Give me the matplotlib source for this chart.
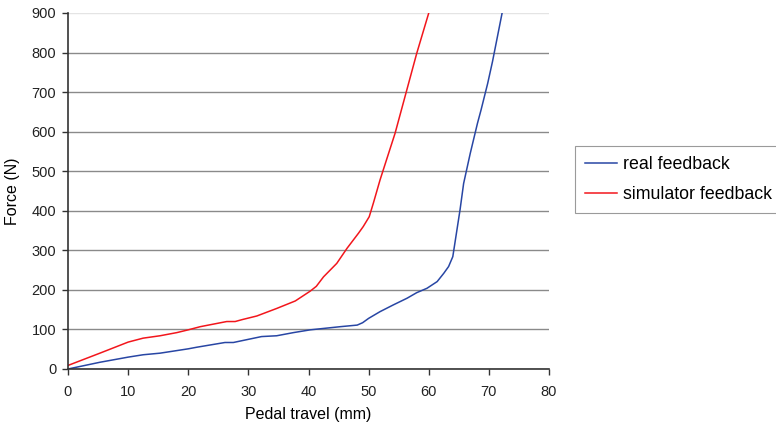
import matplotlib
matplotlib.use("Agg")
import matplotlib.pyplot as plt

plt.rcParams["font.family"] = ["Liberation Sans", "DejaVu Sans"]
plt.rcParams["font.size"] = 10.5

# pedal travel (mm) vs force (N)
real_x = [0, 5.3, 10, 12.5, 15.3, 20, 21.4, 26.1, 27.5, 30, 32.2, 34.7, 37.5, 40.3,
          45.3, 48.1, 49.0, 50.0, 51.9, 54.1, 56.4, 58.0, 59.7, 61.4, 62.5, 63.3,
          64.0, 65.2, 65.8, 66.9, 68.1, 68.7, 69.8, 70.6, 72.2]
real_y = [0, 17, 30, 36, 40, 51, 55, 67, 67, 75, 82, 84, 92, 99,
          107, 111, 117, 128, 145, 162, 179, 193, 204, 221, 242, 259,
          284, 402, 469, 545, 621, 655, 722, 777, 900]

sim_x = [0, 5.3, 10, 12.5, 15.3, 18.1, 20, 22, 26.4, 27.8, 29, 31.4, 34.7, 37.8,
         40.3, 41.3, 42.5, 44.7, 46.4, 48.3, 49.1, 50.1, 50.8, 51.9, 53.0, 54.4,
         56.2, 58.0, 60.0]
sim_y = [9, 40, 68, 78, 84, 92, 99, 107, 120, 120, 125, 134, 153, 172,
         197, 209, 233, 267, 305, 343, 360, 385, 420, 478, 530, 596,
         697, 798, 900]

fig = plt.figure(figsize=(7.76, 4.32), dpi=100)
ax = fig.add_axes([68 / 776, 1 - 369 / 432, (549 - 68) / 776, (369 - 13) / 432])

ax.plot(real_x, real_y, color="#2846a4", lw=1.1, label="real feedback")
ax.plot(sim_x, sim_y, color="#f2161c", lw=1.1, label="simulator feedback")

ax.set_xlim(0, 80)
ax.set_ylim(0, 900)
ax.set_xticks(range(0, 81, 10))
ax.set_yticks(range(0, 901, 100))
ax.yaxis.grid(True, color="#8a8a8a", lw=1.0)
ax.get_ygridlines()[-1].set_color("#e4e4e4")
ax.set_axisbelow(True)
for s in ["top", "right"]:
    ax.spines[s].set_visible(False)
for s in ["left", "bottom"]:
    ax.spines[s].set_color("#333333")
    ax.spines[s].set_linewidth(1.2)
ax.tick_params(direction="out", length=4.5, width=1.0, color="#333333", labelcolor="#222222")
ax.tick_params(axis="x", pad=7)
ax.tick_params(axis="y", pad=4)

ax.set_xlabel("Pedal travel (mm)", fontsize=11.5, labelpad=6)
ax.set_ylabel("Force (N)", fontsize=11.5, labelpad=8)

leg = fig.legend(loc="upper left", bbox_to_anchor=(575 / 776, 1 - 146 / 432),
                 fancybox=False, edgecolor="#9a9a9a", framealpha=1, fontsize=12.8,
                 handlelength=1.8, handletextpad=0.35, borderpad=0.55,
                 labelspacing=0.75, borderaxespad=0)
leg.get_frame().set_linewidth(0.8)

fig.savefig("out.png", dpi=100)
